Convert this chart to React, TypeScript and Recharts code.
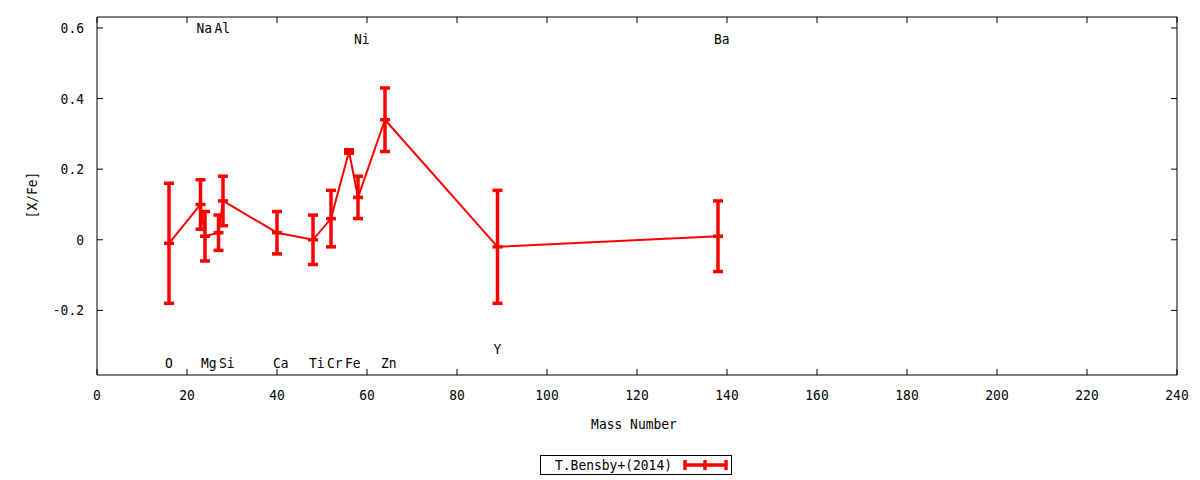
import React from 'react';
import { ScatterChart, Scatter, XAxis, YAxis, ErrorBar, Legend } from 'recharts';

const elements = ['O', 'Na', 'Mg', 'Al', 'Si', 'Ca', 'Ti', 'Cr', 'Fe', 'Ni', 'Zn', 'Y', 'Ba'];
const massNumbers = [16, 23, 24, 27, 28, 40, 48, 52, 56, 58, 64, 89, 138];
const xFe = [-0.01, 0.10, 0.01, 0.02, 0.11, 0.02, 0.00, 0.06, 0.25, 0.12, 0.34, -0.02, 0.01];
const xFeErr = [0.17, 0.07, 0.07, 0.05, 0.07, 0.06, 0.07, 0.08, 0.005, 0.06, 0.09, 0.16, 0.10];
// where each element name is written
const labelY = [-0.35, 0.6, -0.35, 0.6, -0.35, -0.35, -0.35, -0.35, -0.35, 0.57, -0.35, -0.31, 0.57];

const xTicks = [0, 20, 40, 60, 80, 100, 120, 140, 160, 180, 200, 220, 240];
const yTicks = [-0.2, 0, 0.2, 0.4, 0.6];

const seriesName = 'T.Bensby+(2014)';

const points = massNumbers.map((m, i) => ({ mass: m, value: xFe[i], err: xFeErr[i] }));
const labels = massNumbers.map((m, i) => ({ mass: m, value: labelY[i], name: elements[i] }));

const RED = '#ff0000';
const FONT = '"DejaVu Sans Mono", monospace';
const CHAR_W = 7.8;

// narrow monospace text, like the gnuplot terminal font
const T = ({ x, y, anchor = 'middle', children, rotate }: any) => {
  const s = String(children);
  return (
    <text
      x={x}
      y={y}
      textAnchor={anchor}
      dominantBaseline="central"
      fontSize={14}
      fontFamily={FONT}
      fill="#000"
      textLength={s.length * CHAR_W}
      lengthAdjust="spacingAndGlyphs"
      transform={rotate ? `rotate(${rotate} ${x} ${y})` : undefined}
    >
      {s}
    </text>
  );
};

const BottomTick = (props: any) => {
  const { x, y, payload } = props;
  return (
    <g>
      <line x1={x} x2={x} y1={y} y2={y - 6} stroke="#000" />
      <T x={x} y={y + 20}>{payload.value}</T>
    </g>
  );
};

const TopTick = (props: any) => {
  const { x, y } = props;
  return <line x1={x} x2={x} y1={y} y2={y + 6} stroke="#000" />;
};

const LeftTick = (props: any) => {
  const { x, y, payload } = props;
  return (
    <g>
      <line x1={x} x2={x + 6} y1={y} y2={y} stroke="#000" />
      <T x={x - 13} y={y} anchor="end">{String(payload.value)}</T>
    </g>
  );
};

const RightTick = (props: any) => {
  const { x, y } = props;
  return <line x1={x} x2={x - 6} y1={y} y2={y} stroke="#000" />;
};

const PointMark = (props: any) => {
  const { cx, cy } = props;
  return <line x1={cx - 5} x2={cx + 5} y1={cy} y2={cy} stroke={RED} strokeWidth={3.5} />;
};

const ElementLabel = (props: any) => {
  const { cx, cy, payload } = props;
  return <T x={cx - 4} y={cy} anchor="start">{payload.name}</T>;
};

const LegendBox = () => (
  <div
    style={{
      boxSizing: 'border-box',
      width: 192,
      height: 20,
      border: '1px solid #000',
      display: 'flex',
      alignItems: 'center',
      fontFamily: FONT,
      fontSize: 14,
      background: '#fff',
    }}
  >
    <svg width={142} height={18} style={{ flex: 'none' }}>
      <T x={14} y={9} anchor="start">{seriesName}</T>
    </svg>
    <svg width={46} height={12} style={{ flex: 'none' }}>
      <line x1={2} x2={43} y1={6} y2={6} stroke={RED} strokeWidth={3.5} />
      <line x1={2} x2={2} y1={1} y2={11} stroke={RED} strokeWidth={3.5} />
      <line x1={43} x2={43} y1={1} y2={11} stroke={RED} strokeWidth={3.5} />
      <line x1={22} x2={22} y1={1} y2={11} stroke={RED} strokeWidth={3.5} />
    </svg>
  </div>
);

export default function App() {
  return (
    <div style={{ position: 'absolute', left: 0, top: 0, width: 1200, height: 480, background: '#fff', fontFamily: FONT }}>
      <ScatterChart width={1200} height={480} margin={{ top: 0, right: 0, bottom: 0, left: 0 }}>
        <XAxis
          xAxisId="bottom"
          type="number"
          dataKey="mass"
          domain={[0, 240]}
          ticks={xTicks}
          allowDataOverflow
          height={105}
          stroke="#000"
          tickSize={0}
          tickMargin={0}
          tickLine={false}
          tick={<BottomTick />}
          label={(p: any) => {
            const vb = p.viewBox;
            return <T x={vb.x + vb.width / 2 - 3} y={vb.y + 49}>Mass Number</T>;
          }}
        />
        <XAxis
          xAxisId="top"
          orientation="top"
          type="number"
          dataKey="mass"
          domain={[0, 240]}
          ticks={xTicks}
          allowDataOverflow
          height={17}
          stroke="#000"
          tickSize={0}
          tickMargin={0}
          tickLine={false}
          tick={<TopTick />}
        />
        <YAxis
          yAxisId="left"
          type="number"
          dataKey="value"
          domain={[-0.383, 0.631]}
          ticks={yTicks}
          allowDataOverflow
          width={97}
          stroke="#000"
          tickSize={0}
          tickMargin={0}
          tickLine={false}
          tick={<LeftTick />}
          label={(p: any) => {
            const vb = p.viewBox;
            return <T x={vb.x + 32} y={vb.y + vb.height / 2 - 1} rotate={-90}>[X/Fe]</T>;
          }}
        />
        <YAxis
          yAxisId="right"
          orientation="right"
          type="number"
          dataKey="value"
          domain={[-0.383, 0.631]}
          ticks={yTicks}
          allowDataOverflow
          width={23}
          stroke="#000"
          tickSize={0}
          tickMargin={0}
          tickLine={false}
          tick={<RightTick />}
        />
        <Scatter
          name={seriesName}
          data={points}
          xAxisId="bottom"
          yAxisId="left"
          line={{ stroke: RED, strokeWidth: 2 }}
          lineType="joint"
          shape={<PointMark />}
          isAnimationActive={false}
        >
          <ErrorBar dataKey="err" direction="y" width={5} stroke={RED} strokeWidth={3.5} isAnimationActive={false} />
        </Scatter>
        <Scatter
          name="labels"
          data={labels}
          xAxisId="bottom"
          yAxisId="left"
          shape={<ElementLabel />}
          isAnimationActive={false}
        />
        <Legend
          layout="horizontal"
          verticalAlign="middle"
          align="center"
          wrapperStyle={{ top: 455, left: 540, width: 192, height: 20 }}
          content={<LegendBox />}
        />
      </ScatterChart>
    </div>
  );
}
